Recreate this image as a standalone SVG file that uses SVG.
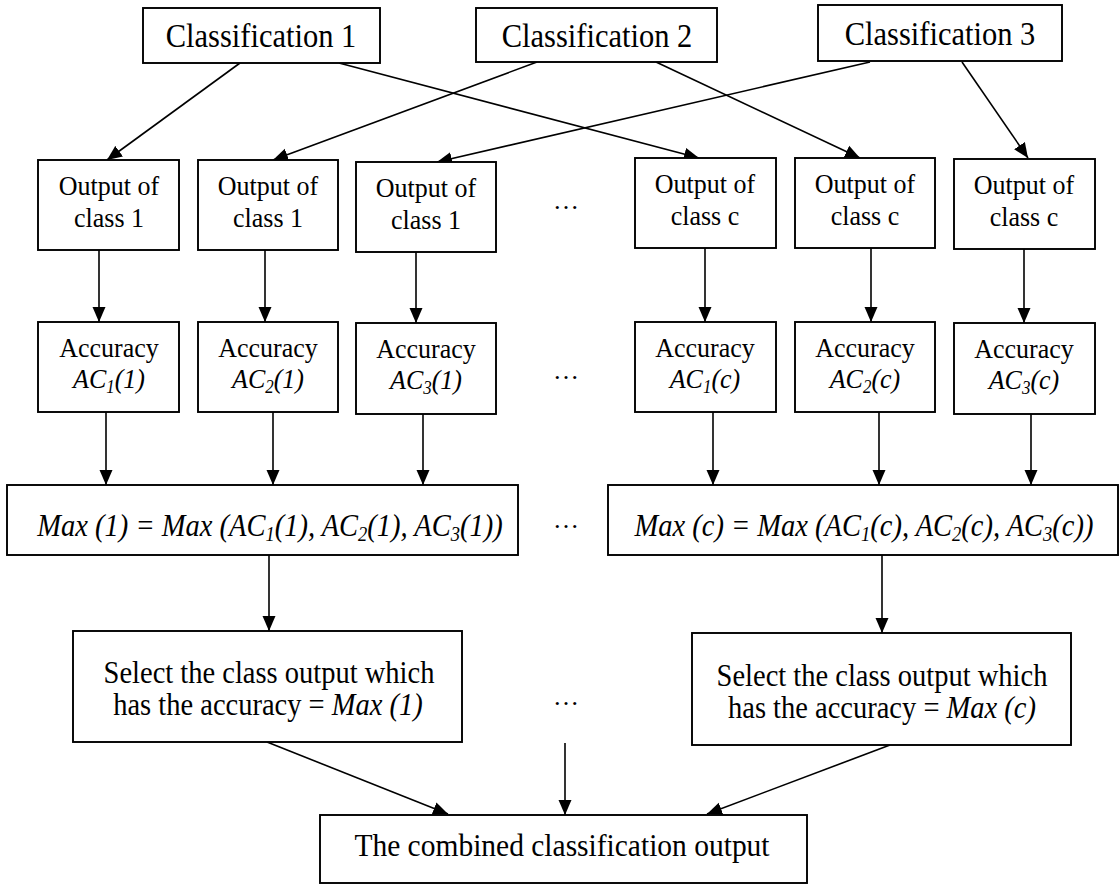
<svg xmlns="http://www.w3.org/2000/svg" width="1120" height="885" viewBox="0 0 1120 885">
  <style>
    .box { fill: #ffffff; stroke: #000000; stroke-width: 1.9; }
    .txt { font-family: "Liberation Serif", "Times New Roman", serif; fill: #000000; text-anchor: middle; }
    .cls { font-size: 30.5px; }
    .sm { font-size: 26px; }
    .mid { font-size: 28.5px; }
    .big { font-size: 29.5px; }
    .it { font-style: italic; }
    .sub { font-size: 0.65em; }
    .conn { fill: none; stroke: #000000; stroke-width: 1.6; }
  </style>
  <defs>
    <marker id="arrow" markerUnits="userSpaceOnUse" markerWidth="16" markerHeight="14" refX="15" refY="7" orient="auto">
      <path d="M0,0.5 L15,7 L0,13.5 Z" fill="#000000"/>
    </marker>
  </defs>

  <rect width="1120" height="885" fill="#ffffff"/>

  <!-- connectors -->
  <g id="connectors" class="conn" marker-end="url(#arrow)">
    <!-- classifiers to class outputs -->
    <line x1="240" y1="63" x2="107" y2="160"/>
    <line x1="339" y1="63" x2="699" y2="158"/>
    <line x1="537" y1="62" x2="273" y2="160"/>
    <line x1="656" y1="62" x2="860" y2="158"/>
    <line x1="870" y1="62" x2="437" y2="162"/>
    <line x1="962" y1="62" x2="1028" y2="158"/>
    <!-- outputs to accuracies -->
    <line x1="99" y1="250" x2="99" y2="322"/>
    <line x1="265" y1="250" x2="265" y2="322"/>
    <line x1="416" y1="252" x2="416" y2="323"/>
    <line x1="705" y1="248" x2="705" y2="322"/>
    <line x1="871" y1="248" x2="871" y2="322"/>
    <line x1="1024" y1="249" x2="1024" y2="323"/>
    <!-- accuracies to max -->
    <line x1="106" y1="412" x2="106" y2="485"/>
    <line x1="273" y1="412" x2="273" y2="485"/>
    <line x1="423" y1="414" x2="423" y2="485"/>
    <line x1="713" y1="412" x2="713" y2="485"/>
    <line x1="879" y1="412" x2="879" y2="485"/>
    <line x1="1031" y1="414" x2="1031" y2="485"/>
    <!-- max to selection -->
    <line x1="269" y1="555" x2="269" y2="631"/>
    <line x1="882" y1="555" x2="882" y2="633"/>
    <!-- selections to combined output -->
    <line x1="267" y1="742" x2="448" y2="814"/>
    <line x1="565" y1="743" x2="565" y2="815"/>
    <line x1="890" y1="745" x2="707" y2="814"/>
  </g>

  <!-- classifiers -->
  <g id="classification-1">
    <rect class="box" x="143" y="8" width="237" height="55"/>
    <text class="txt cls" x="261" y="47" transform="translate(0,47) scale(1,1.08) translate(0,-47)">Classification 1</text>
  </g>
  <g id="classification-2">
    <rect class="box" x="476" y="8" width="241" height="54"/>
    <text class="txt cls" x="597" y="47" transform="translate(0,47) scale(1,1.08) translate(0,-47)">Classification 2</text>
  </g>
  <g id="classification-3">
    <rect class="box" x="818" y="5" width="244" height="56"/>
    <text class="txt cls" x="940" y="45" transform="translate(0,45) scale(1,1.08) translate(0,-45)">Classification 3</text>
  </g>

  <!-- class outputs -->
  <g id="output-1-1">
    <rect class="box" x="38" y="160" width="141" height="90"/>
    <text class="txt sm" x="109" y="195" transform="translate(0,195) scale(1,1.08) translate(0,-195)">Output of</text>
    <text class="txt sm" x="109" y="227" transform="translate(0,227) scale(1,1.08) translate(0,-227)">class 1</text>
  </g>
  <g id="output-2-1">
    <rect class="box" x="198" y="160" width="140" height="90"/>
    <text class="txt sm" x="268" y="195" transform="translate(0,195) scale(1,1.08) translate(0,-195)">Output of</text>
    <text class="txt sm" x="268" y="227" transform="translate(0,227) scale(1,1.08) translate(0,-227)">class 1</text>
  </g>
  <g id="output-3-1">
    <rect class="box" x="356" y="162" width="140" height="90"/>
    <text class="txt sm" x="426" y="197" transform="translate(0,197) scale(1,1.08) translate(0,-197)">Output of</text>
    <text class="txt sm" x="426" y="229" transform="translate(0,229) scale(1,1.08) translate(0,-229)">class 1</text>
  </g>
  <g id="output-1-c">
    <rect class="box" x="635" y="158" width="141" height="90"/>
    <text class="txt sm" x="705" y="193" transform="translate(0,193) scale(1,1.08) translate(0,-193)">Output of</text>
    <text class="txt sm" x="705" y="225" transform="translate(0,225) scale(1,1.08) translate(0,-225)">class c</text>
  </g>
  <g id="output-2-c">
    <rect class="box" x="795" y="158" width="140" height="90"/>
    <text class="txt sm" x="865" y="193" transform="translate(0,193) scale(1,1.08) translate(0,-193)">Output of</text>
    <text class="txt sm" x="865" y="225" transform="translate(0,225) scale(1,1.08) translate(0,-225)">class c</text>
  </g>
  <g id="output-3-c">
    <rect class="box" x="954" y="159" width="141" height="90"/>
    <text class="txt sm" x="1024" y="194" transform="translate(0,194) scale(1,1.08) translate(0,-194)">Output of</text>
    <text class="txt sm" x="1024" y="226" transform="translate(0,226) scale(1,1.08) translate(0,-226)">class c</text>
  </g>

  <!-- accuracies -->
  <g id="accuracy-1-1">
    <rect class="box" x="38" y="322" width="141" height="90"/>
    <text class="txt sm" x="109" y="357" transform="translate(0,357) scale(1,1.08) translate(0,-357)">Accuracy</text>
    <text class="txt sm it" x="109" y="388" transform="translate(0,388) scale(1,1.08) translate(0,-388)">AC<tspan class="sub" dy="5">1</tspan><tspan dy="-5">(1)</tspan></text>
  </g>
  <g id="accuracy-2-1">
    <rect class="box" x="198" y="322" width="140" height="90"/>
    <text class="txt sm" x="268" y="357" transform="translate(0,357) scale(1,1.08) translate(0,-357)">Accuracy</text>
    <text class="txt sm it" x="268" y="388" transform="translate(0,388) scale(1,1.08) translate(0,-388)">AC<tspan class="sub" dy="5">2</tspan><tspan dy="-5">(1)</tspan></text>
  </g>
  <g id="accuracy-3-1">
    <rect class="box" x="356" y="323" width="140" height="91"/>
    <text class="txt sm" x="426" y="358" transform="translate(0,358) scale(1,1.08) translate(0,-358)">Accuracy</text>
    <text class="txt sm it" x="426" y="389" transform="translate(0,389) scale(1,1.08) translate(0,-389)">AC<tspan class="sub" dy="5">3</tspan><tspan dy="-5">(1)</tspan></text>
  </g>
  <g id="accuracy-1-c">
    <rect class="box" x="635" y="322" width="141" height="90"/>
    <text class="txt sm" x="705" y="357" transform="translate(0,357) scale(1,1.08) translate(0,-357)">Accuracy</text>
    <text class="txt sm it" x="705" y="388" transform="translate(0,388) scale(1,1.08) translate(0,-388)">AC<tspan class="sub" dy="5">1</tspan><tspan dy="-5">(c)</tspan></text>
  </g>
  <g id="accuracy-2-c">
    <rect class="box" x="795" y="322" width="140" height="90"/>
    <text class="txt sm" x="865" y="357" transform="translate(0,357) scale(1,1.08) translate(0,-357)">Accuracy</text>
    <text class="txt sm it" x="865" y="388" transform="translate(0,388) scale(1,1.08) translate(0,-388)">AC<tspan class="sub" dy="5">2</tspan><tspan dy="-5">(c)</tspan></text>
  </g>
  <g id="accuracy-3-c">
    <rect class="box" x="954" y="323" width="141" height="91"/>
    <text class="txt sm" x="1024" y="358" transform="translate(0,358) scale(1,1.08) translate(0,-358)">Accuracy</text>
    <text class="txt sm it" x="1024" y="389" transform="translate(0,389) scale(1,1.08) translate(0,-389)">AC<tspan class="sub" dy="5">3</tspan><tspan dy="-5">(c)</tspan></text>
  </g>

  <!-- maxima -->
  <g id="max-1">
    <rect class="box" x="7" y="485" width="511" height="70"/>
    <text class="txt mid it" x="270" y="536" transform="translate(0,536) scale(1,1.08) translate(0,-536)">Max (1) = Max (AC<tspan class="sub" dy="5">1</tspan><tspan dy="-5">(1), AC</tspan><tspan class="sub" dy="5">2</tspan><tspan dy="-5">(1), AC</tspan><tspan class="sub" dy="5">3</tspan><tspan dy="-5">(1))</tspan></text>
  </g>
  <g id="max-c">
    <rect class="box" x="608" y="485" width="510" height="70"/>
    <text class="txt mid it" x="864" y="536" transform="translate(0,536) scale(1,1.08) translate(0,-536)">Max (c) = Max (AC<tspan class="sub" dy="5">1</tspan><tspan dy="-5">(c), AC</tspan><tspan class="sub" dy="5">2</tspan><tspan dy="-5">(c), AC</tspan><tspan class="sub" dy="5">3</tspan><tspan dy="-5">(c))</tspan></text>
  </g>

  <!-- selections -->
  <g id="select-1">
    <rect class="box" x="73" y="631" width="389" height="111"/>
    <text class="txt mid" x="269" y="683" transform="translate(0,683) scale(1,1.08) translate(0,-683)">Select the class output which</text>
    <text class="txt mid" x="268" y="715" transform="translate(0,715) scale(1,1.08) translate(0,-715)">has the accuracy = <tspan class="it">Max (1)</tspan></text>
  </g>
  <g id="select-c">
    <rect class="box" x="692" y="633" width="379" height="112"/>
    <text class="txt mid" x="882" y="686" transform="translate(0,686) scale(1,1.08) translate(0,-686)">Select the class output which</text>
    <text class="txt mid" x="882" y="718" transform="translate(0,718) scale(1,1.08) translate(0,-718)">has the accuracy = <tspan class="it">Max (c)</tspan></text>
  </g>

  <!-- combined result -->
  <g id="combined-output">
    <rect class="box" x="320" y="815" width="487" height="68"/>
    <text class="txt big" x="562" y="856" transform="translate(0,856) scale(1,1.08) translate(0,-856)">The combined classification output</text>
  </g>

  <!-- ellipses between the class groups -->
  <g id="ellipses" class="txt sm">
    <text x="566" y="209">…</text>
    <text x="566" y="379">…</text>
    <text x="566" y="528">…</text>
    <text x="566" y="705">…</text>
  </g>
</svg>
